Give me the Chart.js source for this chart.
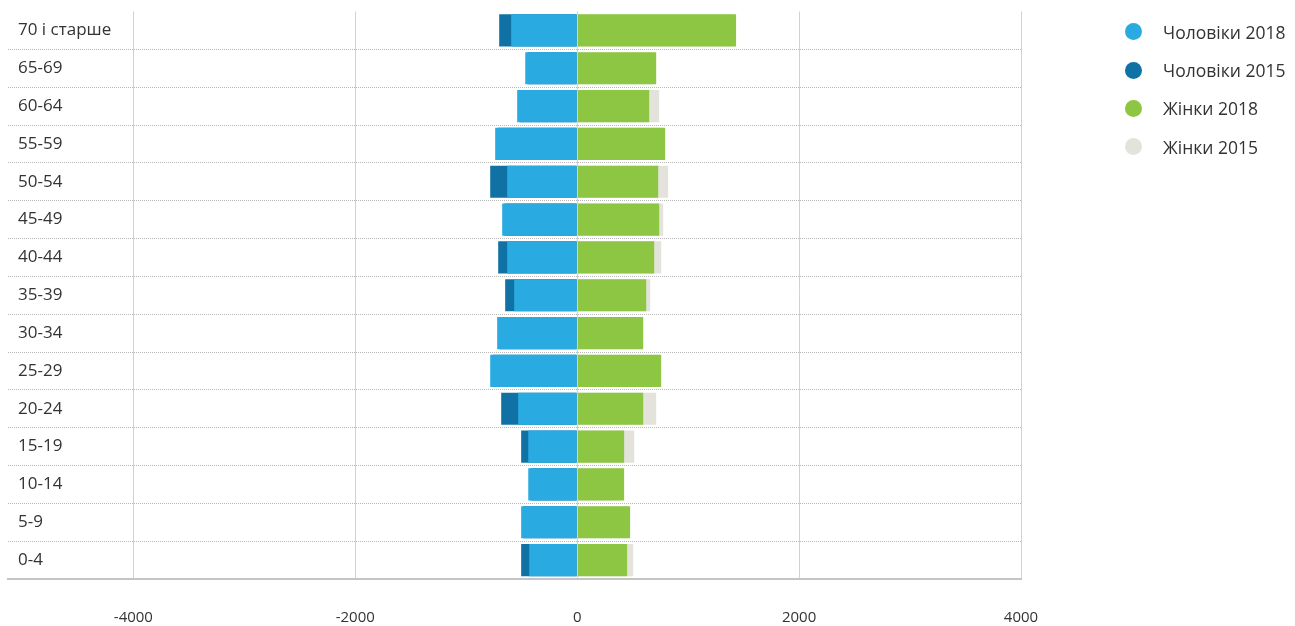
<!DOCTYPE html>
<html lang="uk">
<head>
<meta charset="utf-8">
<title>Населення за віком</title>
<script src="https://cdn.jsdelivr.net/npm/chart.js@4/dist/chart.umd.min.js"></script>
<style>
  html, body { margin: 0; padding: 0; background: #fff; }
  #wrap { position: relative; width: 1295px; height: 626px; }
  #pyramid { display: block; }
  #legend { position: absolute; left: 1125px; top: 12.5px; font-family: "Open Sans", sans-serif; font-size: 17.5px; color: #333; }
  .item { display: flex; align-items: center; height: 38.4px; }
  .dot { width: 17px; height: 17px; border-radius: 50%; margin-right: 21px; }
</style>
</head>
<body>
<div id="wrap">
  <canvas id="pyramid" width="1295" height="626"></canvas>
  <div id="legend"></div>
</div>
<script>
const ageGroups = ["70 і старше", "65-69", "60-64", "55-59", "50-54", "45-49", "40-44",
  "35-39", "30-34", "25-29", "20-24", "15-19", "10-14", "5-9", "0-4"];

// men are drawn to the left, so stored as negative
const men2018 = [-595, -468, -541, -739, -631, -676, -631, -568, -721, -784, -532, -441, -441, -505, -432];
const men2015 = [-703, -445, -515, -715, -784, -655, -712, -649, -700, -760, -685, -505, -420, -485, -505];
const women2018 = [1432, 712, 649, 793, 730, 739, 694, 622, 595, 757, 595, 423, 423, 477, 450];
const women2015 = [1400, 690, 739, 770, 820, 775, 757, 658, 575, 735, 712, 514, 405, 460, 505];

const xTicks = [-4000, -2000, 0, 2000, 4000];

const seriesInfo = [
  { label: "Чоловіки 2018", data: men2018, color: "#29aae1" },
  { label: "Чоловіки 2015", data: men2015, color: "#1072a4" },
  { label: "Жінки 2018", data: women2018, color: "#8dc642" },
  { label: "Жінки 2015", data: women2015, color: "#e3e3db" }
];

const fontFamily = "'Open Sans', sans-serif";

function buildLegend() {
  const box = document.getElementById("legend");
  box.innerHTML = seriesInfo.map(s =>
    `<div class="item"><span class="dot" style="background:${s.color}"></span>${s.label}</div>`
  ).join("");
}

function renderChart() {
  const ctx = document.getElementById("pyramid").getContext("2d");

  new Chart(ctx, {
    type: "bar",
    data: {
      labels: ageGroups,
      datasets: seriesInfo.map(s => ({
        label: s.label,
        data: s.data,
        backgroundColor: s.color,
        borderWidth: 0,
        grouped: false,
        barPercentage: 0.85,
        categoryPercentage: 1
      }))
    },
    options: {
      indexAxis: "y",
      responsive: false,
      animation: false,
      layout: {
        padding: { left: 8, right: 274, top: 11.5, bottom: 0 }
      },
      plugins: {
        legend: { display: false },
        tooltip: {
          callbacks: {
            label: function(context) {
              return `${context.dataset.label}: ${Math.abs(context.parsed.x)}`;
            }
          }
        }
      },
      scales: {
        x: {
          min: -5130,
          max: 4000,
          afterBuildTicks: function(scale) {
            scale.ticks = xTicks.map(v => ({ value: v }));
          },
          afterFit: function(scale) {
            scale.height = 47;
          },
          grid: {
            color: "#d2d2d2",
            drawTicks: false,
            z: 1
          },
          // border after the grid, so it sits on the bottom edge
          border: {
            display: true,
            color: "#c4c4c4",
            width: 2,
            z: 2
          },
          ticks: {
            padding: 30,
            color: "#333",
            font: { size: 15, family: fontFamily },
            callback: function(value) {
              return String(value);
            }
          }
        },
        y: {
          afterFit: function(scale) {
            scale.width = 0;
            scale.paddingTop = 0;
            scale.paddingBottom = 0;
          },
          grid: {
            drawTicks: false,
            color: function(context) {
              return context.index === 0 ? "rgba(0,0,0,0)" : "#b8b8b8";
            }
          },
          border: {
            display: false,
            dash: [1, 1]
          },
          ticks: {
            mirror: true,
            padding: 10,
            color: "#333",
            font: { size: 17, family: fontFamily }
          }
        }
      }
    }
  });
}

buildLegend();
renderChart();
</script>
</body>
</html>
